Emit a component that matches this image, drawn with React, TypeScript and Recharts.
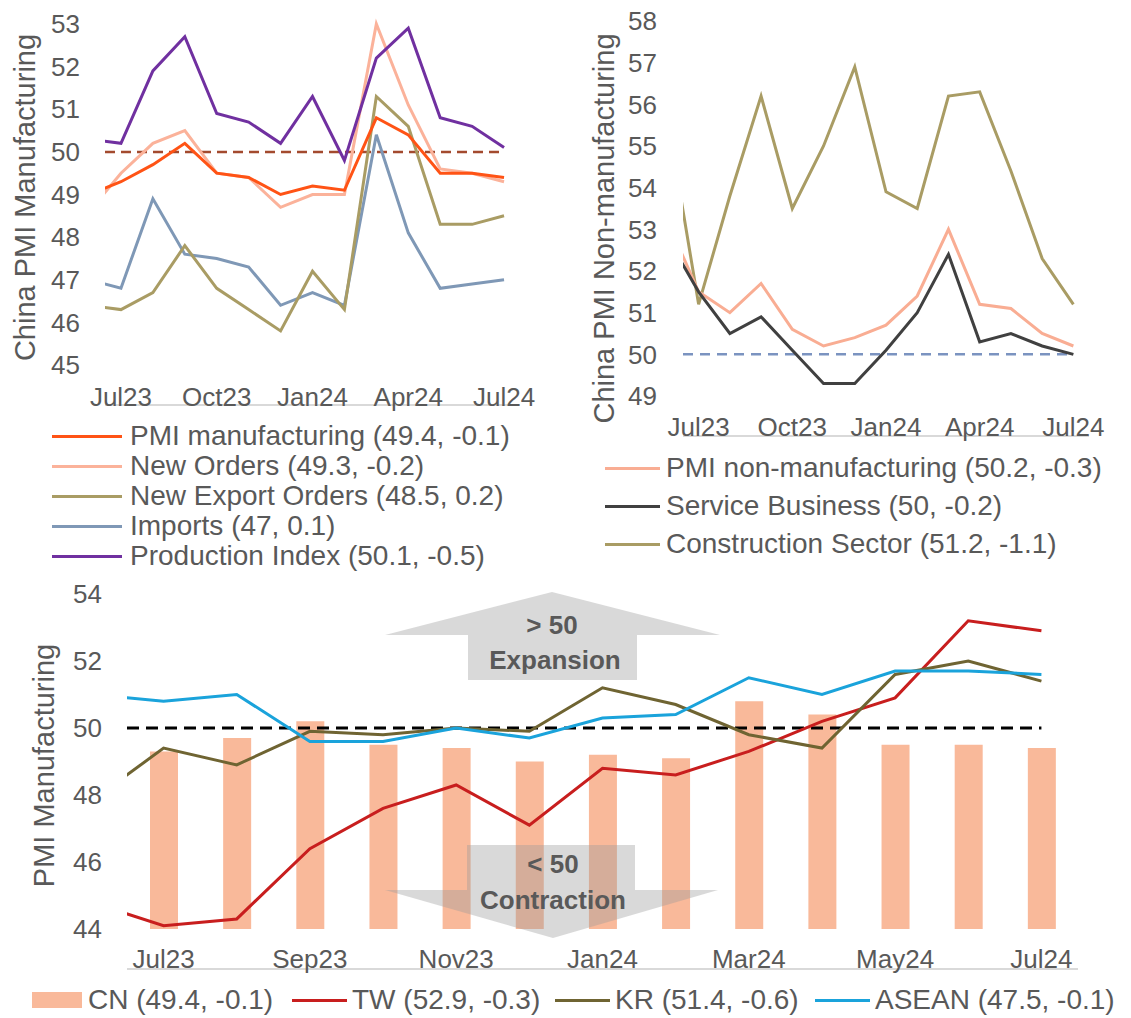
import React from 'react';
import { LineChart, ComposedChart, Line, Bar, XAxis, YAxis, ReferenceLine } from 'recharts';

// ---------- data ----------
const months = ['Jun23', 'Jul23', 'Aug23', 'Sep23', 'Oct23', 'Nov23', 'Dec23', 'Jan24', 'Feb24', 'Mar24', 'Apr24', 'May24', 'Jun24', 'Jul24'];

// China PMI manufacturing panel (Jun23..Jul24)
const pmiMfg = [49.0, 49.3, 49.7, 50.2, 49.5, 49.4, 49.0, 49.2, 49.1, 50.8, 50.4, 49.5, 49.5, 49.4];
const newOrders = [48.6, 49.5, 50.2, 50.5, 49.5, 49.4, 48.7, 49.0, 49.0, 53.0, 51.1, 49.6, 49.5, 49.3];
const newExportOrders = [46.4, 46.3, 46.7, 47.8, 46.8, 46.3, 45.8, 47.2, 46.3, 51.3, 50.6, 48.3, 48.3, 48.5];
const imports = [47.0, 46.8, 48.9, 47.6, 47.5, 47.3, 46.4, 46.7, 46.4, 50.4, 48.1, 46.8, 46.9, 47.0];
const production = [50.3, 50.2, 51.9, 52.7, 50.9, 50.7, 50.2, 51.3, 49.8, 52.2, 52.9, 50.8, 50.6, 50.1];

// China PMI non-manufacturing panel (Jun23..Jul24)
const pmiNonMfg = [53.2, 51.5, 51.0, 51.7, 50.6, 50.2, 50.4, 50.7, 51.4, 53.0, 51.2, 51.1, 50.5, 50.2];
const serviceBiz = [52.8, 51.5, 50.5, 50.9, 50.1, 49.3, 49.3, 50.1, 51.0, 52.4, 50.3, 50.5, 50.2, 50.0];
const construction = [55.7, 51.2, 53.8, 56.2, 53.5, 55.0, 56.9, 53.9, 53.5, 56.2, 56.3, 54.4, 52.3, 51.2];

// Regional PMI panel
const cnBars = [49.3, 49.7, 50.2, 49.5, 49.4, 49.0, 49.2, 49.1, 50.8, 50.4, 49.5, 49.5, 49.4]; // Jul23..Jul24
const tw = [44.8, 44.1, 44.3, 46.4, 47.6, 48.3, 47.1, 48.8, 48.6, 49.3, 50.2, 50.9, 53.2, 52.9];
const kr = [47.8, 49.4, 48.9, 49.9, 49.8, 50.0, 49.9, 51.2, 50.7, 49.8, 49.4, 51.6, 52.0, 51.4];
const asean = [51.0, 50.8, 51.0, 49.6, 49.6, 50.0, 49.7, 50.3, 50.4, 51.5, 51.0, 51.7, 51.7, 51.6];

const topTickLabels = ['Jul23', 'Oct23', 'Jan24', 'Apr24', 'Jul24'];
const bottomTickLabels = ['Jul23', 'Sep23', 'Nov23', 'Jan24', 'Mar24', 'May24', 'Jul24'];
const mfgTicks = [45, 46, 47, 48, 49, 50, 51, 52, 53];
const nonMfgTicks = [49, 50, 51, 52, 53, 54, 55, 56, 57, 58];
const regionTicks = [44, 46, 48, 50, 52, 54];

const mfgLegend = ['PMI manufacturing (49.4, -0.1)', 'New Orders (49.3, -0.2)', 'New Export Orders (48.5, 0.2)', 'Imports (47, 0.1)', 'Production Index (50.1, -0.5)'];
const nonMfgLegend = ['PMI non-manufacturing (50.2, -0.3)', 'Service Business (50, -0.2)', 'Construction Sector (51.2, -1.1)'];
const regionLegend = ['CN (49.4, -0.1)', 'TW (52.9, -0.3)', 'KR (51.4, -0.6)', 'ASEAN (47.5, -0.1)'];

// ---------- tables ----------
const idx = (m: string) => months.indexOf(m) - 1;
const mfgRows = months.map((m, i) => ({ x: i - 1, pmi: pmiMfg[i], no: newOrders[i], neo: newExportOrders[i], imp: imports[i], prod: production[i] }));
const nonMfgRows = months.map((m, i) => ({ x: i - 1, nm: pmiNonMfg[i], sb: serviceBiz[i], cs: construction[i] }));
const regionRows = months.map((m, i) => ({ x: i - 1, cn: i === 0 ? null : cnBars[i - 1], tw: tw[i], kr: kr[i], asean: asean[i] }));

const topLabelTicks = topTickLabels.map(idx);
const topMarkTicks = topLabelTicks.map((v) => v - 0.5);
const botLabelTicks = bottomTickLabels.map(idx);
const botMarkTicks = botLabelTicks.map((v) => v - 0.5);
const lastIdx = months.length - 2;

// ---------- styles ----------
const FONT = '"Liberation Sans", Arial, Helvetica, sans-serif';
const TXT = '#595959';
const AXIS = '#D9D9D9';

const mfgColors = ['#FF5315', '#FBB29A', '#A99C64', '#7F98B6', '#7030A0'];
const nonMfgColors = ['#F9AD93', '#404040', '#A99C64'];
const regionColors = ['#F9B99A', '#C81E1E', '#6F6432', '#1AA3DB'];

const tickStyle = { fill: TXT, fontSize: 26, fontFamily: FONT };

const titleLabel = (text: string, cx: number, dy: number) => (props: any) => {
  const vb = props.viewBox || {};
  const x = (vb.x ?? 0) + cx;
  const y = (vb.y ?? 0) + (vb.height ?? 0) / 2 + dy;
  return (
    <text x={x} y={y} transform={`rotate(-90, ${x}, ${y})`} textAnchor="middle" dominantBaseline="central" fill={TXT} fontSize={29} fontFamily={FONT}>
      {text}
    </text>
  );
};

const fmt = (v: number) => months[v + 1];

const LegendRowLine = ({ color, text, width, gap, h }: any) => (
  <div style={{ display: 'flex', alignItems: 'center', height: h }}>
    <span style={{ display: 'inline-block', width, height: 3, background: color, marginRight: gap }} />
    <span>{text}</span>
  </div>
);

export default function App() {
  const lineProps = { type: 'linear' as const, dot: false, activeDot: false, isAnimationActive: false, strokeWidth: 3, xAxisId: 'lb' };
  return (
    <div style={{ position: 'absolute', left: 0, top: 0, width: 1131, height: 1018, background: '#fff', overflow: 'hidden', fontFamily: FONT }}>
      {/* Top-left: China PMI Manufacturing */}
      <div style={{ position: 'absolute', left: 0, top: 0 }}>
        <LineChart width={560} height={420} data={mfgRows} margin={{ top: 24, right: 40, bottom: 14, left: 0 }}>
          <XAxis xAxisId="tk" dataKey="x" type="number" domain={[-0.5, 12.5]} allowDataOverflow ticks={topMarkTicks} tick={false} tickSize={7} height={1} axisLine={{ stroke: AXIS, strokeWidth: 2 }} tickLine={{ stroke: AXIS, strokeWidth: 2 }} />
          <XAxis xAxisId="lb" dataKey="x" type="number" domain={[-0.5, 12.5]} allowDataOverflow ticks={topLabelTicks} tickFormatter={fmt} axisLine={false} tickLine={false} tickSize={0} tickMargin={23} height={40} tick={tickStyle} interval={0} />
          <YAxis domain={[45, 53]} ticks={mfgTicks} width={105} axisLine={false} tickLine={false} tickSize={0} tickMargin={25} tick={tickStyle} interval={0} label={titleLabel('China PMI Manufacturing', 25, 3)} />
          <ReferenceLine xAxisId="lb" segment={[{ x: -0.5, y: 50 }, { x: lastIdx, y: 50 }]} stroke="#A34A2E" strokeWidth={2.5} strokeDasharray="10 6" />
          <Line {...lineProps} dataKey="imp" stroke={mfgColors[3]} />
          <Line {...lineProps} dataKey="neo" stroke={mfgColors[2]} />
          <Line {...lineProps} dataKey="no" stroke={mfgColors[1]} />
          <Line {...lineProps} dataKey="pmi" stroke={mfgColors[0]} />
          <Line {...lineProps} dataKey="prod" stroke={mfgColors[4]} />
        </LineChart>
      </div>
      <div style={{ position: 'absolute', left: 52, top: 421, fontSize: 28, color: TXT, lineHeight: '30px', whiteSpace: 'nowrap' }}>
        {mfgLegend.map((t, i) => (
          <LegendRowLine key={t} color={mfgColors[i]} text={t} width={70} gap={8} h={30} />
        ))}
      </div>

      {/* Top-right: China PMI Non-manufacturing */}
      <div style={{ position: 'absolute', left: 560, top: 0 }}>
        <LineChart width={571} height={460} data={nonMfgRows} margin={{ top: 21, right: 42, bottom: 23, left: 0 }}>
          <XAxis xAxisId="tk" dataKey="x" type="number" domain={[-0.5, 12.5]} allowDataOverflow ticks={topMarkTicks} tick={false} tickSize={7} height={1} axisLine={{ stroke: AXIS, strokeWidth: 2 }} tickLine={{ stroke: AXIS, strokeWidth: 2 }} />
          <XAxis xAxisId="lb" dataKey="x" type="number" domain={[-0.5, 12.5]} allowDataOverflow ticks={topLabelTicks} tickFormatter={fmt} axisLine={false} tickLine={false} tickSize={0} tickMargin={22} height={40} tick={tickStyle} interval={0} />
          <YAxis domain={[49, 58]} ticks={nonMfgTicks} width={123} axisLine={false} tickLine={false} tickSize={0} tickMargin={26} tick={tickStyle} interval={0} label={titleLabel('China PMI Non-manufacturing', 44, 20)} />
          <ReferenceLine xAxisId="lb" segment={[{ x: -0.5, y: 50 }, { x: lastIdx, y: 50 }]} stroke="#7B93C0" strokeWidth={2.5} strokeDasharray="10 7" />
          <Line {...lineProps} dataKey="cs" stroke={nonMfgColors[2]} />
          <Line {...lineProps} dataKey="nm" stroke={nonMfgColors[0]} />
          <Line {...lineProps} dataKey="sb" stroke={nonMfgColors[1]} />
        </LineChart>
      </div>
      <div style={{ position: 'absolute', left: 605, top: 449, fontSize: 28, color: TXT, lineHeight: '38px', whiteSpace: 'nowrap' }}>
        {nonMfgLegend.map((t, i) => (
          <LegendRowLine key={t} color={nonMfgColors[i]} text={t} width={55} gap={6} h={38} />
        ))}
      </div>

      {/* Bottom: regional PMI manufacturing */}
      <div style={{ position: 'absolute', left: 0, top: 570 }}>
        <ComposedChart width={1131} height={420} data={regionRows} margin={{ top: 24, right: 53, bottom: 20, left: 0 }}>
          <XAxis xAxisId="tk" dataKey="x" type="number" domain={[-0.5, 12.5]} allowDataOverflow ticks={botMarkTicks} tick={false} tickSize={7} height={1} axisLine={{ stroke: AXIS, strokeWidth: 2 }} tickLine={{ stroke: AXIS, strokeWidth: 2 }} />
          <XAxis xAxisId="lb" dataKey="x" type="number" domain={[-0.5, 12.5]} allowDataOverflow ticks={botLabelTicks} tickFormatter={fmt} axisLine={false} tickLine={false} tickSize={0} tickMargin={21} height={40} tick={tickStyle} interval={0} />
          <YAxis domain={[44, 54]} ticks={regionTicks} width={127} axisLine={false} tickLine={false} tickSize={0} tickMargin={25} tick={tickStyle} interval={0} label={titleLabel('PMI Manufacturing', 44, 4)} />
          <Bar xAxisId="lb" dataKey="cn" fill={regionColors[0]} barSize={28} isAnimationActive={false} />
          <ReferenceLine xAxisId="lb" segment={[{ x: -0.5, y: 50 }, { x: lastIdx, y: 50 }]} stroke="#000" strokeWidth={3} strokeDasharray="12 7" />
          <Line {...lineProps} dataKey="tw" stroke={regionColors[1]} />
          <Line {...lineProps} dataKey="kr" stroke={regionColors[2]} />
          <Line {...lineProps} dataKey="asean" stroke={regionColors[3]} />
        </ComposedChart>
      </div>

      {/* Expansion / contraction arrows */}
      <svg width={1131} height={1018} style={{ position: 'absolute', left: 0, top: 0, pointerEvents: 'none' }}>
        <polygon points="552,592 720,635 637,635 637,680 468,680 468,635 385,635" fill="#9A9A9A" fillOpacity={0.38} />
        <polygon points="467,845 635,845 635,890 718,890 553,938 385,890 467,890" fill="#9A9A9A" fillOpacity={0.38} />
        <g fill="#595959" fontFamily={FONT} fontWeight="bold" fontSize={26} textAnchor="middle" dominantBaseline="central">
          <text x={552} y={625}>&gt; 50</text>
          <text x={555} y={660}>Expansion</text>
          <text x={553} y={864}>&lt; 50</text>
          <text x={553} y={900}>Contraction</text>
        </g>
      </svg>

      {/* Bottom legend */}
      <div style={{ position: 'absolute', left: 0, top: 985, width: 1131, height: 30, fontSize: 28, color: TXT, whiteSpace: 'nowrap' }}>
        <span style={{ position: 'absolute', left: 32, top: 7, width: 50, height: 16, background: regionColors[0] }} />
        <span style={{ position: 'absolute', left: 88, top: 0, lineHeight: '30px' }}>{regionLegend[0]}</span>
        <span style={{ position: 'absolute', left: 292, top: 14, width: 55, height: 3, background: regionColors[1] }} />
        <span style={{ position: 'absolute', left: 352, top: 0, lineHeight: '30px' }}>{regionLegend[1]}</span>
        <span style={{ position: 'absolute', left: 555, top: 14, width: 55, height: 3, background: regionColors[2] }} />
        <span style={{ position: 'absolute', left: 615, top: 0, lineHeight: '30px' }}>{regionLegend[2]}</span>
        <span style={{ position: 'absolute', left: 815, top: 14, width: 55, height: 3, background: regionColors[3] }} />
        <span style={{ position: 'absolute', left: 875, top: 0, lineHeight: '30px' }}>{regionLegend[3]}</span>
      </div>
    </div>
  );
}
